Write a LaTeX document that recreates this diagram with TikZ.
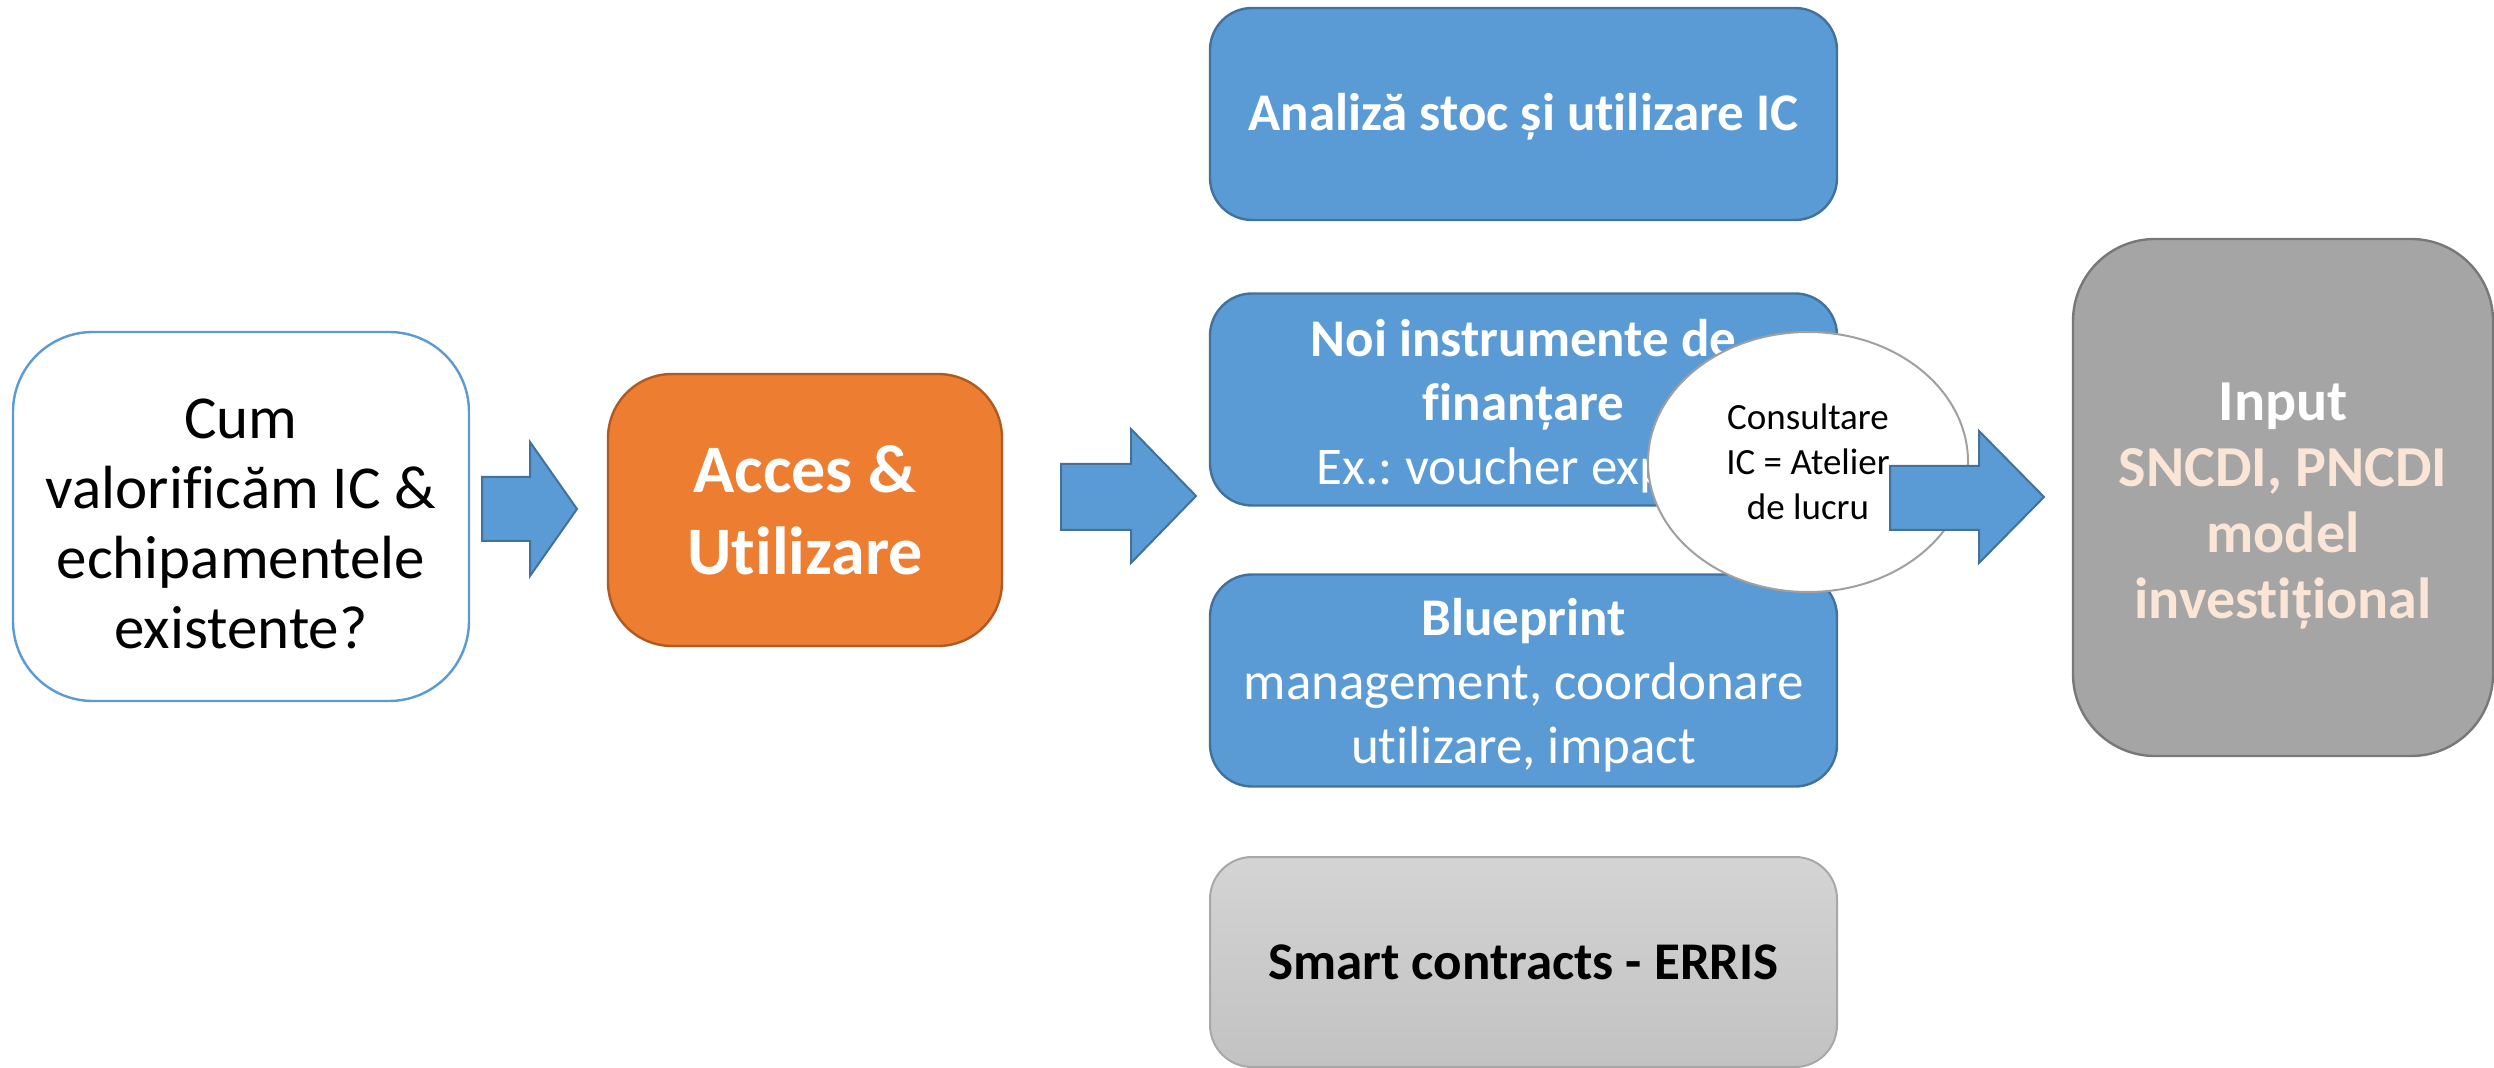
\documentclass[tikz,border=0pt]{standalone}
\usepackage{fontspec}
\setmainfont{Carlito}[Ligatures={NoCommon}]
\usetikzlibrary{shapes.geometric}
\definecolor{bluefill}{HTML}{5B9BD5}
\definecolor{blueline}{HTML}{41719C}
\definecolor{orangefill}{HTML}{ED7D31}
\definecolor{orangeline}{HTML}{AE5A21}
\definecolor{greyfill}{HTML}{A5A5A5}
\definecolor{greyline}{HTML}{787878}
\definecolor{peach}{HTML}{FBE5D6}
\definecolor{smarttop}{HTML}{D4D4D4}
\definecolor{smartbot}{HTML}{C2C2C2}
\definecolor{smartline}{HTML}{A8A8A8}
\definecolor{ellline}{HTML}{A0A0A0}
\tikzset{
  bluebox/.style={draw=blueline, fill=bluefill, line width=1.2pt, rounded corners=21pt,
    minimum width=313.5pt, minimum height=106pt, inner sep=0pt},
  txt/.style={align=center, inner sep=0pt},
  blockarrow/.style={draw=blueline, fill=bluefill, line width=1pt, line join=miter},
  f26/.style={font=\fontsize{26.5pt}{32pt}\selectfont}
}
\begin{document}
\frenchspacing
\begin{tikzpicture}[x=0.5pt,y=-0.5pt]
\useasboundingbox (0,0) rectangle (2494,1068);
% left question box
\node[draw=bluefill, fill=white, line width=1.2pt, rounded corners=40pt,
  minimum width=228pt, minimum height=184.5pt, inner sep=0pt] (q) at (241,516.5) {};
\node[txt, font=\fontsize{30.5pt}{35pt}\selectfont] (qtext) at ([yshift=-3.5pt]q.center)
  {Cum\\valorificăm IC \&\\echipamentele\\existente?};
% acces box
\node[draw=orangeline, fill=orangefill, line width=1.2pt, rounded corners=32pt,
  minimum width=197pt, minimum height=136pt, align=center, inner sep=0pt, text=white,
  font=\bfseries\fontsize{34pt}{41pt}\selectfont] (acces) at (805,510)
  {Acces \&\\Utilizare};
% arrow 1
\draw[blockarrow] (482,477) -- (530,477) -- (530,442) -- (577,509) -- (530,576) -- (530,541) -- (482,541) -- cycle;
% arrow 2
\draw[blockarrow] (1061,464) -- (1131,464) -- (1131,429) -- (1196,496) -- (1131,563) -- (1131,530) -- (1061,530) -- cycle;
% blue boxes
\node[bluebox] (analiza) at (1523.5,114) {};
\node[txt, text=white, font=\bfseries\fontsize{26.5pt}{32pt}\selectfont] (analizatext)
  at ([yshift=-1.5pt]analiza.center) {Analiză stoc și utilizare IC};
\node[bluebox] (noi) at (1523.5,399.5) {};
\node[txt, text=white, f26] (noitext) at ([yshift=-3.5pt]noi.center)
  {\textbf{Noi instrumente de}\\\textbf{finanțare}\\Ex.: voucher expert};
\node[bluebox] (blue) at (1523.5,680.5) {};
\node[txt, text=white, f26] (bluetext) at ([yshift=-2.5pt]blue.center)
  {\textbf{Blueprint}\\management, coordonare\\utilizare, impact};
% smart contracts
\node[draw=smartline, top color=smarttop, bottom color=smartbot, line width=1pt, rounded corners=21pt,
  minimum width=313.5pt, minimum height=105pt, align=center, inner sep=0pt,
  font=\bfseries\fontsize{26.5pt}{32pt}\selectfont] (smart) at (1523.5,962)
  {Smart contracts - ERRIS};
% ellipse
\node[ellipse, draw=ellline, fill=white, line width=1pt, minimum width=160pt, minimum height=130pt,
  inner sep=0pt, align=center, font=\fontsize{18.5pt}{22.5pt}\selectfont] (cons) at (1808,462)
  {Consultare\\IC = Atelier\\de lucru};
% arrow 3
\draw[blockarrow] (1890,466) -- (1979,466) -- (1979,431) -- (2044,497) -- (1979,563) -- (1979,530) -- (1890,530) -- cycle;
% input box
\node[draw=greyline, fill=greyfill, line width=1.2pt, rounded corners=41pt,
  minimum width=210pt, minimum height=258.5pt, inner sep=0pt] (input) at (2283,497.5) {};
\node[txt, font=\bfseries\fontsize{29pt}{33pt}\selectfont] (inputtext) at ([yshift=-4.5pt]input.center)
  {\textcolor{white}{Input}\\\textcolor{peach}{SNCDI, PNCDI}\\\textcolor{peach}{model}\\\textcolor{peach}{investițional}};
\end{tikzpicture}
\end{document}
